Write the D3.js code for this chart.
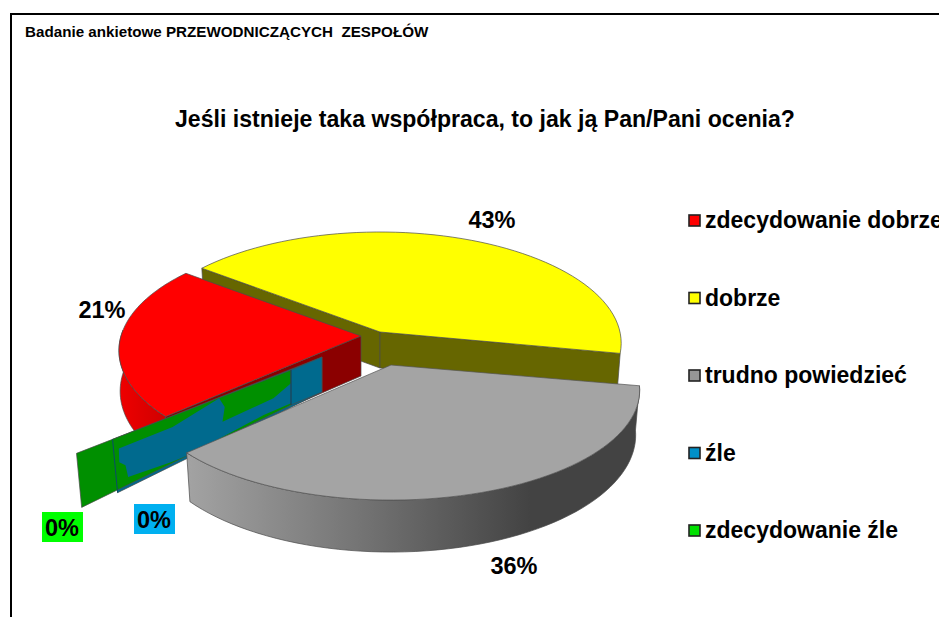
<!DOCTYPE html>
<html><head><meta charset="utf-8">
<script src="https://cdn.jsdelivr.net/npm/d3@7/dist/d3.min.js"></script>
<style>html,body{margin:0;padding:0;background:#fff;overflow:hidden}text{font-family:"Liberation Sans",Arial,sans-serif;font-weight:bold;fill:#000}</style>
</head><body><script>
const categories = ["zdecydowanie dobrze","dobrze","trudno powiedzieć","źle","zdecydowanie źle"];
const values = [21,43,36,0,0];
const valueLabels = ["21%","43%","36%","0%","0%"];
const topColors = ["#ff0000","#ffff00","#a4a4a4","#006a8e","#008f00"];
const legendColors = ["#ff0000","#ffff00","#969696","#0090c8","#00e000"];
const chartHeading = "Badanie ankietowe PRZEWODNICZĄCYCH\u00a0 ZESPOŁÓW";
const chartTitle = "Jeśli istnieje taka współpraca, to jak ją Pan/Pani ocenia?";

const W=939,H=617;
const svg=d3.select("body").append("svg").attr("width",W).attr("height",H).style("display","block");
const defs=svg.append("defs");
const grayGrad=defs.append("linearGradient").attr("id","gs").attr("gradientUnits","userSpaceOnUse").attr("x1",190).attr("x2",530).attr("y1",0).attr("y2",0);
[[0,"#a2a2a2"],[.5,"#747474"],[1,"#434343"]].forEach(([o,c])=>grayGrad.append("stop").attr("offset",o).attr("stop-color",c));
const redGrad=defs.append("linearGradient").attr("id","rs").attr("gradientUnits","userSpaceOnUse").attr("x1",120).attr("x2",165).attr("y1",0).attr("y2",0);
[[0,"#ee0000"],[1,"#d00000"]].forEach(([o,c])=>redGrad.append("stop").attr("offset",o).attr("stop-color",c));

// cumulative share -> on-screen angle (the source's 3D view distorts angles)
const cum=[0,...d3.cumsum(values)];
const angle=d3.scaleLinear().domain([0,values[0],values[0]+values[1],100]).range([228,308,461,585]);

// per-slice exploded view parameters
const view=[
 {ax:361,ay:336,rx:240,ry:110,k:.13,depth:40,dk:1,q:.005},
 {ax:380,ay:332,rx:240,ry:110,k:.1,depth:36,dk:0,q:.012},
 {ax:391,ay:365,rx:242,ry:104,k:.23,depth:43,dk:.7,q:.016},
 {ax:322,ay:357,rx:248,ry:97.5,k:.23,depth:35,dk:2.7,q:.024},
 {ax:291,ay:370,rx:254,ry:98.7,k:.23,depth:35,dk:2.8,q:.024}
];
function project(v,deg,r,h){
  const t=deg*Math.PI/180,uu=r*Math.sin(t),vv=-r*Math.cos(t),s=1/(1-v.k*vv);
  return [v.ax+v.rx*uu*s*(1-h*v.q), v.ay+v.ry*vv*s+h*v.depth*(1+v.dk*(s-1))];
}
const line=d3.line();
const arcPts=(v,a0,a1,h)=>d3.range(0,61).map(i=>project(v,a0+(a1-a0)*i/60,1,h));
const stroke="#4a4a4a",sw=.7;
const g=svg.append("g");
function poly(pts,fill,st=stroke){return g.append("path").attr("d",line(pts)+"Z").attr("fill",fill).attr("stroke",st).attr("stroke-width",sw).attr("stroke-linejoin","round");}
function wall(v,deg,fill){return poly([project(v,deg,0,0),project(v,deg,1,0),project(v,deg,1,1),project(v,deg,0,1)],fill);}
const a=i=>[angle(cum[i]),angle(cum[i+1])];

// yellow
const [y0,y1]=a(1);
wall(view[1],y0,"#666600");
wall(view[1],y1,"#666600");
poly([...arcPts(view[1],y0,y1,0),project(view[1],0,0,0)],topColors[1]);
// red
const [r0,r1]=a(0);
poly([...arcPts(view[0],r0,r1-35,0),...arcPts(view[0],r0,r1-35,1).reverse()],"url(#rs)");
wall(view[0],r0,"#8b0000");
poly([...arcPts(view[0],r0,r1,0),project(view[0],0,0,0)],topColors[0]);
// zero-width slices: only their radial walls show, overlapping each other
const [z]=a(3);
const bv=view[3],gv=view[4];
wall(bv,z,topColors[3]);
wall(gv,z,topColors[4]);
const gc=[project(gv,z,0,0),project(gv,z,1,0),project(gv,z,0,1),project(gv,z,1,1)];
const onWall=([t,h])=>{const tx=gc[0][0]+(gc[1][0]-gc[0][0])*t,ty=gc[0][1]+(gc[1][1]-gc[0][1])*t,bx=gc[2][0]+(gc[3][0]-gc[2][0])*t,by=gc[2][1]+(gc[3][1]-gc[2][1])*t;return [tx+(bx-tx)*h,ty+(by-ty)*h];};
// where the blue wall wins the depth test over the green one in the source (wall fractions)
const blueBlob=[[.807,.225],[.555,.235],[.335,.01],[.311,.27],[.324,.6],[.083,.585],[0,.38],[0,.95],[.13,.91],[.486,1],[.57,.97],[.775,.85],[.783,.6],[.81,.49]];
g.append("path").attr("d",line(blueBlob.map(onWall))+"Z").attr("fill",topColors[3]);
// the part of the blue wall in front of the green apex, and the seams
poly([project(bv,z,0,0),onWall([0,0]),onWall([0,1]),project(bv,z,0,1)],topColors[3]);
g.append("path").attr("d",line([project(bv,z,1,0),project(bv,z,1,1)])).attr("stroke","#0a4a6a").attr("stroke-width",1);
g.append("path").attr("d",line([onWall([0,0]),onWall([0,1])])).attr("stroke","#0a3a5a").attr("stroke-width",.8);
// gray
const [g0,g1]=a(2);
const gs=view[2];
poly([...arcPts(gs,g0,g1,0),...arcPts(gs,g0,g1,1).reverse()],"url(#gs)");
poly([...arcPts(gs,g0,g1,0),project(gs,0,0,0)],topColors[2],"#555");

// percent labels
const labelPos=[[102,318],[492,228],[514,574],[154,528],[62,536]];
const labelBox=[null,null,null,"#00b0f0","#00ff00"];
const labels=svg.append("g");
values.forEach((_,i)=>{
  if(labelBox[i]) labels.append("rect").attr("x",labelPos[i][0]-20).attr("y",labelPos[i][1]-24).attr("width",41).attr("height",30).attr("fill",labelBox[i]);
  labels.append("text").attr("x",labelPos[i][0]).attr("y",labelPos[i][1]).attr("text-anchor","middle").attr("font-size",23.5).text(valueLabels[i]);
});

// legend
const ly=d3.scalePoint().domain(categories).range([228,538]);
const lg=svg.append("g");
categories.forEach((c,i)=>{
  lg.append("rect").attr("x",689).attr("y",ly(c)-13).attr("width",11).attr("height",11).attr("fill",legendColors[i]).attr("stroke","#222").attr("stroke-width",1.6);
  lg.append("text").attr("x",705).attr("y",ly(c)).attr("font-size",23).text(c);
});

// frame and titles
svg.append("path").attr("d","M11,617V14H939").attr("fill","none").attr("stroke","#000").attr("stroke-width",2);
svg.append("text").attr("x",25).attr("y",37).attr("font-size",15.2).text(chartHeading);
svg.append("text").attr("x",485).attr("y",127).attr("text-anchor","middle").attr("font-size",23.1).text(chartTitle);
</script></body></html>
